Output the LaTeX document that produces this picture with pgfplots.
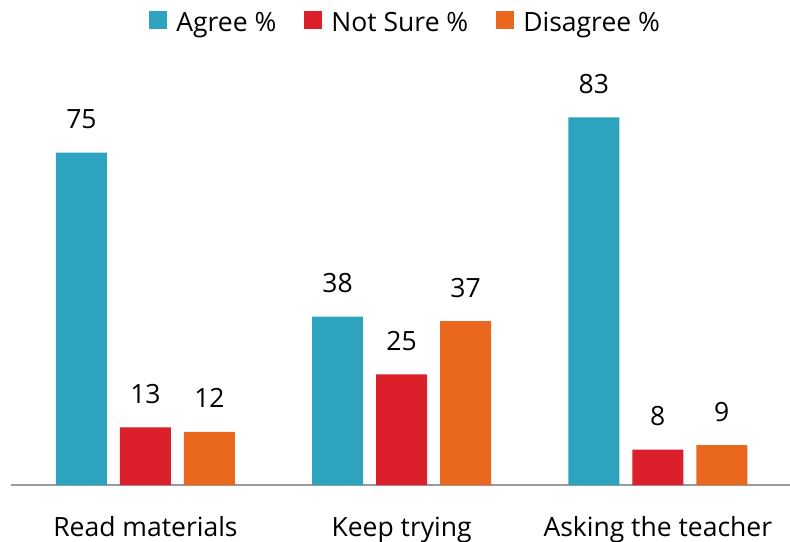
\documentclass[border=0pt]{standalone}
\usepackage{pgfplots}
\pgfplotsset{compat=1.18}
\usepackage{fontspec}
\setmainfont{Open Sans}
\definecolor{cA}{HTML}{2EA3BF}
\definecolor{cN}{HTML}{DB1F2B}
\definecolor{cD}{HTML}{EA671E}
\definecolor{axg}{HTML}{9A9A9A}
\newcommand\lblfont{\fontsize{26.5}{30}\selectfont}
\begin{document}
\begin{tikzpicture}
\path[use as bounding box] (-11pt,-56pt) rectangle (779pt,485pt);
\begin{axis}[
  at={(0,0)}, anchor=south west,
  scale only axis, width=780pt, height=443pt,
  xmin=-0.525, xmax=2.52, ymin=0, ymax=100,
  ybar=13pt, bar width=51pt,
  /pgf/number format/assume math mode=true,
  xtick=data, xticklabels={Read materials,Keep trying,Asking the teacher},
  xtick style={draw=none},
  xticklabel style={font=\lblfont, inner sep=0pt, anchor=base, yshift=-49pt},
  axis x line=bottom, axis line style={-, axg, line width=1.5pt},
  hide y axis,
  nodes near coords,
  every node near coord/.append style={font=\lblfont, black, inner sep=0pt, anchor=base, yshift=24pt},
  legend columns=3,
  legend style={draw=none, at={(0.506,1.044)}, anchor=center, font=\lblfont,
    /tikz/every even column/.append style={column sep=26pt},
    /tikz/every odd column/.append style={column sep=7pt}},
  legend image code/.code={\fill[#1] (0pt,-6pt) rectangle (18pt,12pt);},
]
\addplot[fill=cA, draw=none] coordinates {(0,75) (1,38) (2,83)};
\addplot[fill=cN, draw=none] coordinates {(0,13) (1,25) (2,8)};
\addplot[fill=cD, draw=none] coordinates {(0,12) (1,37) (2,9)};
\legend{Agree \%, Not Sure \%, Disagree \%}
\end{axis}
\end{tikzpicture}
\end{document}
